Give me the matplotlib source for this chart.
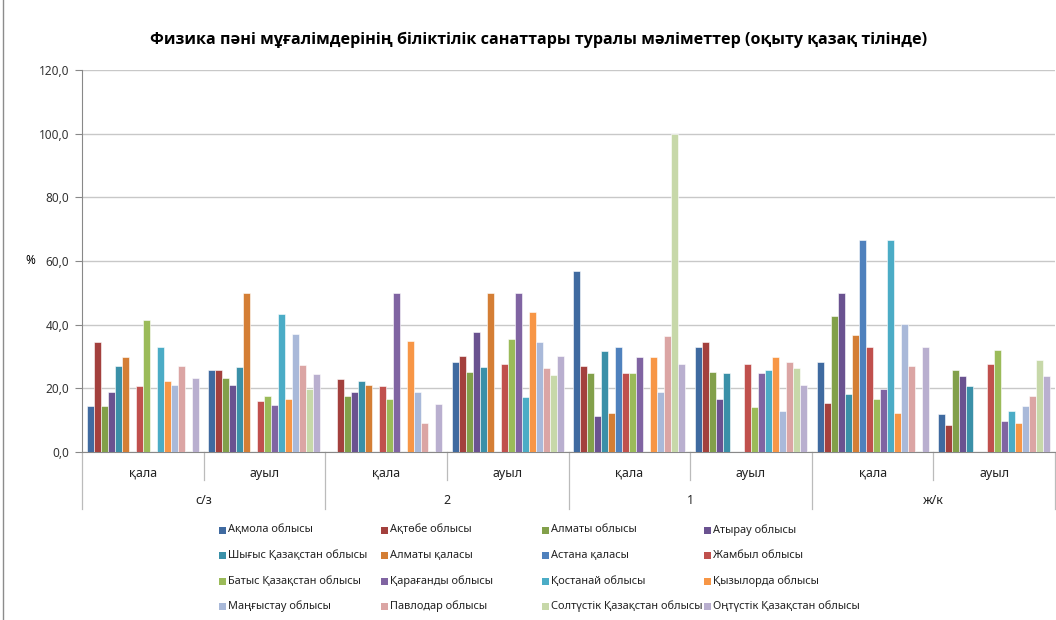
import numpy as np
import matplotlib
matplotlib.use("Agg")
import matplotlib.pyplot as plt
from matplotlib.patches import Rectangle
from matplotlib.lines import Line2D

nan = np.nan

sub_labels = ["қала", "ауыл", "қала", "ауыл", "қала", "ауыл", "қала", "ауыл"]
top_labels = ["с/з", "2", "1", "ж/к"]

series_names = [
    "Ақмола облысы", "Ақтөбе облысы", "Алматы облысы", "Атырау облысы",
    "Шығыс Қазақстан облысы", "Алматы қаласы", "Астана қаласы", "Жамбыл облысы",
    "Батыс Қазақстан облысы", "Қарағанды облысы", "Қостанай облысы", "Қызылорда облысы",
    "Маңғыстау облысы", "Павлодар облысы", "Солтүстік Қазақстан облысы", "Оңтүстік Қазақстан облысы",
]

# values per series across 8 categories
akmola      = [14.3, 25.9, nan, 28.3, 56.9, 33.1, 28.3, 11.9]
aktobe      = [34.5, 25.9, 22.9, 30.3, 26.9, 34.7, 15.3, 8.5]
almaty_obl  = [14.3, 23.2, 17.7, 25.1, 24.8, 25.1, 42.6, 25.9]
atyrau      = [19.0, 20.9, 19.0, 37.8, 11.3, 16.8, 50.0, 23.8]
shygys      = [27.1, 26.8, 22.4, 26.8, 31.7, 24.9, 18.1, 20.7]
almaty_city = [29.7, 50.0, 20.9, 50.0, 12.2, nan, 36.7, nan]
astana      = [nan, nan, nan, nan, 33.1, nan, 66.7, nan]
zhambyl     = [20.7, 16.1, 20.7, 27.7, 24.8, 27.7, 33.1, 27.7]
batys       = [41.5, 17.7, 16.6, 35.5, 24.8, 14.2, 16.6, 31.9]
karagandy   = [nan, 14.9, 50.0, 50.0, 29.9, 24.9, 19.8, 9.8]
kostanay    = [33.1, 43.2, nan, 17.2, nan, 25.9, 66.7, 12.8]
kyzylorda   = [22.2, 16.8, 35.0, 43.9, 29.9, 29.7, 12.4, 9.0]
mangystau   = [21.1, 37.1, 19.0, 34.7, 19.0, 13.0, 40.3, 14.5]
pavlodar    = [27.0, 27.3, 9.0, 26.3, 36.3, 28.3, 27.1, 17.5]
soltustik   = [nan, 19.8, nan, 24.2, 100.0, 26.4, nan, 28.8]
ontustik    = [23.4, 24.5, 15.2, 30.3, 27.7, 20.9, 32.9, 23.8]

series_values = [akmola, aktobe, almaty_obl, atyrau, shygys, almaty_city, astana, zhambyl,
                 batys, karagandy, kostanay, kyzylorda, mangystau, pavlodar, soltustik, ontustik]

colors = ["#3F6AA0", "#A3403D", "#82A04A", "#6A5290", "#3A90A8", "#D47E35",
          "#4F81BD", "#C0504D", "#9BBB59", "#8064A2", "#4BACC6", "#F79646",
          "#A9B9D9", "#DBA5A4", "#C7D8A9", "#B9AFCF"]

W, H = 1056, 620
fig = plt.figure(figsize=(W / 100, H / 100), dpi=100)
fig.patch.set_facecolor("white")

FONT = ["Noto Sans", "DejaVu Sans"]
TFONT = ["Open Sans", "Noto Sans", "DejaVu Sans"]

ax_l, ax_r, ax_t, ax_b = 82, 1055, 70, 452
ax = fig.add_axes([ax_l / W, 1 - ax_b / H, (ax_r - ax_l) / W, (ax_b - ax_t) / H])

ncat = len(sub_labels)
nser = len(series_values)
bw = 7.0 / 121.6
x = np.arange(ncat) + 0.5
for k, (vals, c) in enumerate(zip(series_values, colors)):
    ax.bar(x + (k - (nser - 1) / 2) * bw, vals, width=bw, color=c,
           edgecolor="#FFFFFF", linewidth=0.4, zorder=3)

ax.set_xlim(0, ncat)
ax.set_ylim(0, 120)
ax.set_yticks(np.arange(0, 121, 20))
ax.set_yticklabels([f"{v:.1f}".replace(".", ",") for v in np.arange(0, 121, 20)],
                   fontsize=8.5, color="#333333", family=FONT)
ax.tick_params(axis="y", length=5, width=0.8, color="#888888", pad=4, direction="out")
ax.set_xticks([])
ax.grid(axis="y", color="#C8C8C8", linewidth=1.0, zorder=0)
for s in ["top", "right"]:
    ax.spines[s].set_visible(False)
ax.spines["left"].set_color("#888888")
ax.spines["bottom"].set_color("#888888")
ax.spines["left"].set_linewidth(0.8)
ax.spines["bottom"].set_linewidth(0.8)

# multi-level category axis
trans = ax.get_xaxis_transform()
axh = ax_b - ax_t
y1 = -28 / axh
y2 = -57 / axh
for i in range(ncat + 1):
    yb = y2 if i % 2 == 0 else y1
    ax.add_line(Line2D([i, i], [0, yb], transform=trans, color="#BBBBBB",
                       linewidth=0.9, clip_on=False))
for i, lab in enumerate(sub_labels):
    ax.text(i + 0.5, -21 / axh, lab, transform=trans, ha="center", va="center",
            fontsize=9, color="#222222", family=FONT)
for j, lab in enumerate(top_labels):
    ax.text(2 * j + 1, -48 / axh, lab, transform=trans, ha="center", va="center",
            fontsize=9, color="#222222", family=FONT)

# y-axis title
fig.text(30 / W, 1 - 261 / H, "%", ha="center", va="center", fontsize=8.5,
         fontweight="bold", family=FONT)

# title
fig.text(539 / W, 1 - 40 / H,
         "Физика пәні мұғалімдерінің біліктілік санаттары туралы мәліметтер (оқыту қазақ тілінде)",
         ha="center", va="center", fontsize=11.6, fontweight="bold", family=TFONT)

# legend (row-major, 4 columns)
col_x = [222, 384, 545, 707]
row_y = [530, 555, 581, 606]
for k, (name, c) in enumerate(zip(series_names, colors)):
    r, cc = divmod(k, 4)
    px, py = col_x[cc], row_y[r]
    fig.patches.append(Rectangle(((px - 3.5) / W, 1 - (py + 3.5) / H), 7 / W, 7 / H,
                                 transform=fig.transFigure, facecolor=c,
                                 edgecolor="none"))
    fig.text((px + 6) / W, 1 - py / H, name, ha="left", va="center",
             fontsize=7.9, color="#222222", family=FONT)

# outer chart border (left edge)
fig.add_artist(Line2D([2.5 / W, 2.5 / W], [0, 1], transform=fig.transFigure,
                      color="#8C8C8C", linewidth=1.0))

fig.savefig("out.png", dpi=100)
